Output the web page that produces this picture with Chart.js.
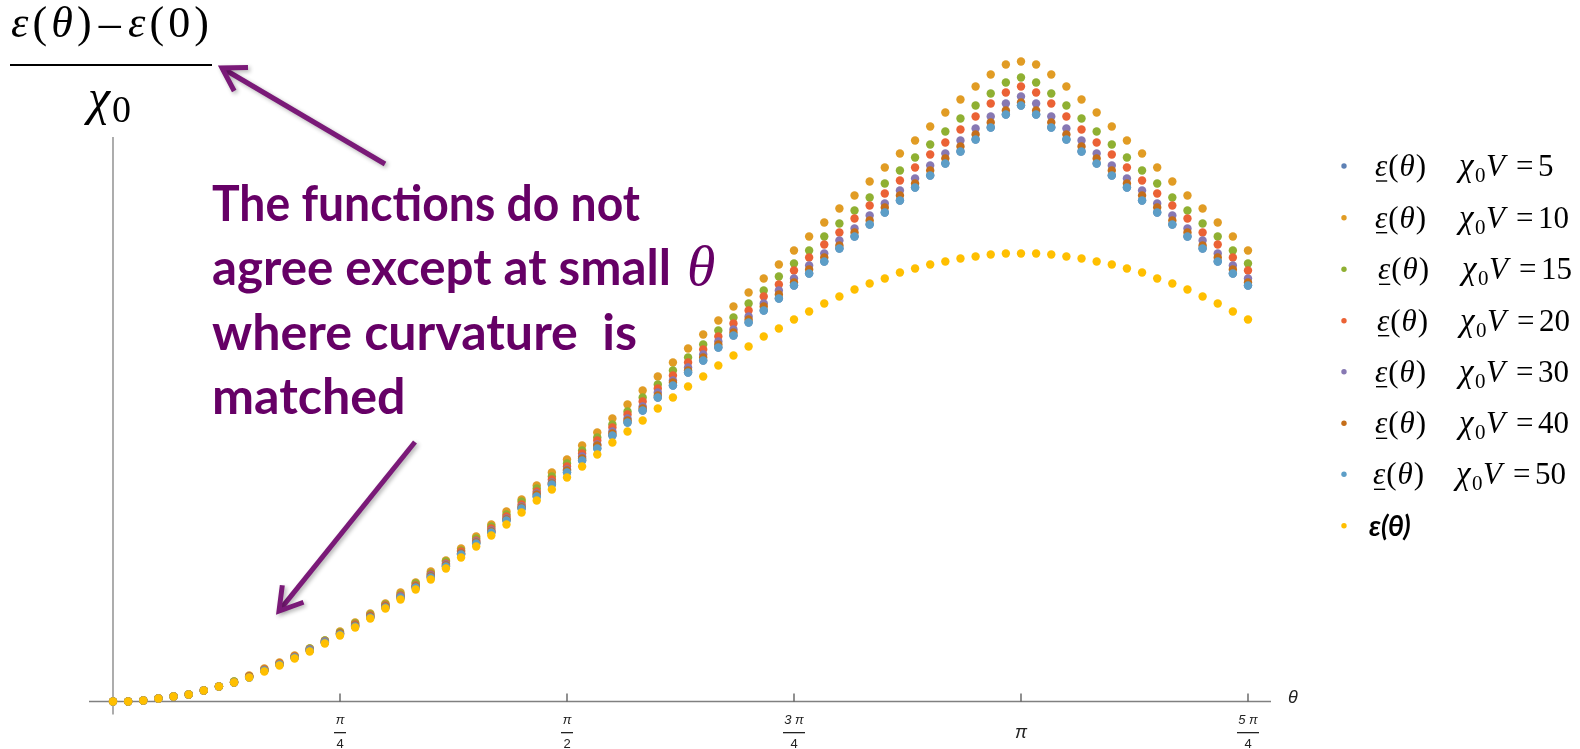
<!DOCTYPE html>
<html>
<head>
<meta charset="utf-8">
<script src="https://cdn.jsdelivr.net/npm/chart.js@4/dist/chart.umd.min.js"></script>
<style>
html,body{margin:0;padding:0;background:#fff;overflow:hidden}
#wrap{width:1580px;height:749px;position:relative}
</style>
</head>
<body>
<div id="wrap"><canvas id="c" width="1580" height="749"></canvas></div>
<script>
// theta in degrees (0 .. 5π/4)
const thetaDeg = [0,3,6,9,12,15,18,21,24,27,30,33,36,39,42,45,48,51,54,57,
60,63,66,69,72,75,78,81,84,87,90,93,96,99,102,105,108,111,114,117,
120,123,126,129,132,135,138,141,144,147,150,153,156,159,162,165,168,171,174,177,
180,183,186,189,192,195,198,201,204,207,210,213,216,219,222,225];

// exact ε(θ)
const epsExact = [0.00,0.00,0.01,0.03,0.05,0.07,0.11,0.15,0.19,0.24,
0.30,0.36,0.43,0.50,0.58,0.66,0.74,0.83,0.93,1.02,
1.12,1.22,1.33,1.44,1.55,1.66,1.77,1.89,2.01,2.12,
2.24,2.35,2.47,2.59,2.70,2.81,2.93,3.04,3.15,3.25,
3.36,3.46,3.55,3.65,3.73,3.82,3.90,3.98,4.05,4.12,
4.18,4.23,4.29,4.33,4.37,4.40,4.43,4.45,4.47,4.48,
4.48,4.48,4.47,4.45,4.43,4.40,4.37,4.33,4.29,4.23,
4.18,4.12,4.05,3.98,3.90,3.82];

const eps10 = [0.00,0.00,0.01,0.03,0.05,0.07,0.11,0.15,0.20,0.26,
0.33,0.39,0.46,0.53,0.61,0.70,0.79,0.88,0.98,1.09,
1.19,1.30,1.41,1.53,1.65,1.77,1.90,2.02,2.16,2.29,
2.42,2.56,2.69,2.83,2.97,3.11,3.25,3.39,3.53,3.67,
3.81,3.95,4.09,4.23,4.37,4.51,4.65,4.79,4.93,5.06,
5.20,5.34,5.48,5.61,5.75,5.89,6.02,6.15,6.27,6.37,
6.40,6.37,6.27,6.15,6.02,5.89,5.75,5.61,5.48,5.34,
5.20,5.06,4.93,4.79,4.65,4.51];

const eps15 = [0.00,0.00,0.01,0.03,0.05,0.07,0.11,0.15,0.20,0.25,
0.32,0.38,0.45,0.53,0.61,0.69,0.78,0.87,0.97,1.07,
1.18,1.28,1.40,1.51,1.63,1.75,1.87,2.00,2.13,2.25,
2.38,2.51,2.64,2.77,2.90,3.04,3.17,3.31,3.44,3.57,
3.71,3.84,3.98,4.11,4.25,4.38,4.51,4.65,4.78,4.91,
5.04,5.18,5.31,5.44,5.57,5.70,5.83,5.96,6.08,6.19,
6.24,6.19,6.08,5.96,5.83,5.70,5.57,5.44,5.31,5.18,
5.04,4.91,4.78,4.65,4.51,4.38];

const eps20 = [0.00,0.00,0.01,0.03,0.05,0.07,0.11,0.15,0.19,0.25,
0.32,0.38,0.45,0.52,0.60,0.68,0.77,0.86,0.96,1.06,
1.16,1.27,1.38,1.50,1.61,1.73,1.85,1.97,2.10,2.22,
2.35,2.48,2.61,2.74,2.87,3.00,3.13,3.26,3.39,3.52,
3.65,3.78,3.91,4.05,4.17,4.31,4.44,4.57,4.69,4.83,
4.96,5.08,5.21,5.34,5.47,5.59,5.72,5.85,5.98,6.09,
6.15,6.09,5.98,5.85,5.72,5.59,5.47,5.34,5.21,5.08,
4.96,4.83,4.69,4.57,4.44,4.31];

const eps30 = [0.00,0.00,0.01,0.03,0.05,0.07,0.11,0.15,0.19,0.25,
0.31,0.37,0.44,0.52,0.60,0.68,0.76,0.85,0.95,1.05,
1.15,1.26,1.37,1.48,1.60,1.71,1.83,1.95,2.08,2.19,
2.32,2.45,2.57,2.70,2.83,2.95,3.09,3.21,3.34,3.47,
3.60,3.72,3.85,3.98,4.11,4.23,4.36,4.48,4.61,4.73,
4.86,4.98,5.11,5.23,5.36,5.48,5.61,5.73,5.85,5.98,
6.05,5.98,5.85,5.73,5.61,5.48,5.36,5.23,5.11,4.98,
4.86,4.73,4.61,4.48,4.36,4.23];

const eps40 = [0.00,0.00,0.01,0.03,0.05,0.07,0.11,0.15,0.19,0.25,
0.31,0.37,0.44,0.51,0.59,0.68,0.76,0.85,0.95,1.04,
1.15,1.25,1.36,1.48,1.59,1.70,1.82,1.94,2.07,2.18,
2.31,2.43,2.56,2.68,2.81,2.93,3.06,3.19,3.31,3.44,
3.57,3.69,3.82,3.95,4.07,4.19,4.32,4.44,4.56,4.69,
4.81,4.94,5.06,5.18,5.31,5.43,5.55,5.67,5.79,5.91,
5.99,5.91,5.79,5.67,5.55,5.43,5.31,5.18,5.06,4.94,
4.81,4.69,4.56,4.44,4.32,4.19];

const eps50 = [0.00,0.00,0.01,0.03,0.05,0.07,0.11,0.15,0.19,0.24,
0.31,0.37,0.44,0.51,0.59,0.67,0.75,0.84,0.94,1.04,
1.14,1.24,1.35,1.47,1.58,1.69,1.81,1.93,2.05,2.17,
2.29,2.41,2.53,2.66,2.79,2.91,3.04,3.16,3.29,3.41,
3.54,3.66,3.79,3.91,4.03,4.16,4.28,4.40,4.53,4.65,
4.77,4.89,5.01,5.14,5.26,5.38,5.50,5.62,5.74,5.87,
5.96,5.87,5.74,5.62,5.50,5.38,5.26,5.14,5.01,4.89,
4.77,4.65,4.53,4.40,4.28,4.16];

// χ0V = 5 lies underneath the other series (not distinguishable in the picture)
const eps5 = [0.00,0.00,0.01,0.03,0.05,0.07,0.11,0.15,0.19,0.24,
0.31,0.37,0.44,0.51,0.59,0.67,0.75,0.84,0.94,1.04,
1.14,1.24,1.35,1.47,1.58,1.69,1.81,1.93,2.05,2.17,
2.29,2.41,2.53,2.66,2.79,2.91,3.04,3.16,3.29,3.41,
3.54,3.66,3.79,3.91,4.03,4.16,4.28,4.40,4.53,4.65,
4.77,4.89,5.01,5.14,5.26,5.38,5.50,5.62,5.74,5.87,
5.96,5.87,5.74,5.62,5.50,5.38,5.26,5.14,5.01,4.89,
4.77,4.65,4.53,4.40,4.28,4.16];

const seriesLabels = ['5','10','15','20','30','40','50'];
const tickDeg = [45, 90, 135, 180, 225];
const tickNum = ['π','π','3 π','π','5 π'];
const tickDen = ['4','2','4','','4'];
const noteLines = ['The functions do not', 'agree except at small ', 'where curvature  is', 'matched'];

const colors = ['#5E81B5','#E19C24','#8FB032','#EB6235','#8778B3','#C56E1A','#5D9EC7','#FFBF00'];
const seriesData = [eps5, eps10, eps15, eps20, eps30, eps40, eps50, epsExact];

const datasets = seriesData.map((arr, k) => ({
  label: k < 7 ? 'χ0V = ' + seriesLabels[k] : 'ε(θ)',
  data: arr.map((v, i) => ({x: thetaDeg[i], y: v})),
  backgroundColor: colors[k],
  pointBackgroundColor: colors[k],
  pointBorderWidth: 0,
  pointRadius: 4.2,
  pointHoverRadius: 4.2,
  showLine: false,
  clip: false,
  order: 7 - k
}));

const SERIF = '"Liberation Serif", "Times New Roman", serif';
const SANS = '"Liberation Sans", Arial, sans-serif';

function seqWidth(ctx, segs) {
  let w = 0;
  segs.forEach(s => { ctx.font = s.f; w += (s.pre || 0) + ctx.measureText(s.t).width + (s.post || 0); });
  return w;
}

function drawSeq(ctx, x, base, segs, gap) {
  let cx = x;
  gap = gap || 0;
  segs.forEach(s => {
    ctx.font = s.f;
    cx += (s.pre || 0);
    ctx.fillText(s.t, cx, base + (s.dy || 0));
    const w = ctx.measureText(s.t).width;
    if (s.ul) {
      ctx.save();
      ctx.lineWidth = 1.4;
      ctx.strokeStyle = ctx.fillStyle;
      ctx.beginPath();
      ctx.moveTo(cx + 1, base + 5);
      ctx.lineTo(cx + w, base + 5);
      ctx.stroke();
      ctx.restore();
    }
    cx += w + (s.post || 0) + gap;
  });
  return cx;
}

function arrow(ctx, tx, ty, fx, fy) {
  const ang = Math.atan2(fy - ty, fx - tx);
  const L = 26, a = 0.55;
  ctx.beginPath();
  ctx.moveTo(fx, fy);
  ctx.lineTo(tx + 3 * Math.cos(ang), ty + 3 * Math.sin(ang));
  ctx.stroke();
  ctx.beginPath();
  ctx.moveTo(tx + L * Math.cos(ang - a), ty + L * Math.sin(ang - a));
  ctx.lineTo(tx, ty);
  ctx.lineTo(tx + L * Math.cos(ang + a), ty + L * Math.sin(ang + a));
  ctx.stroke();
}

const overlay = {
  id: 'overlay',
  beforeDatasetsDraw(chart) {
    const ctx = chart.ctx, xs = chart.scales.x, ys = chart.scales.y;
    const ca = chart.chartArea;
    ctx.save();
    ctx.strokeStyle = '#808080';
    ctx.lineWidth = 1.3;
    const y0 = ys.getPixelForValue(0);
    const x0 = xs.getPixelForValue(0);
    ctx.beginPath(); ctx.moveTo(ca.left - 2, y0); ctx.lineTo(ca.right, y0); ctx.stroke();
    ctx.beginPath(); ctx.moveTo(x0, ys.getPixelForValue(5.645)); ctx.lineTo(x0, ys.getPixelForValue(-0.13)); ctx.stroke();
    ctx.strokeStyle = '#555';
    tickDeg.forEach(d => {
      const px = xs.getPixelForValue(d);
      ctx.beginPath(); ctx.moveTo(px, y0); ctx.lineTo(px, y0 - 8); ctx.stroke();
    });
    // tick labels
    ctx.fillStyle = '#222';
    ctx.textAlign = 'center';
    ctx.textBaseline = 'middle';
    tickDeg.forEach((d, k) => {
      const px = xs.getPixelForValue(d);
      if (tickDen[k] === '') {
        ctx.font = 'italic 18px ' + SANS;
        ctx.fillText(tickNum[k], px, y0 + 31);
      } else {
        ctx.font = 'italic 13px ' + SANS;
        ctx.fillText(tickNum[k], px, y0 + 19);
        const w = tickNum[k].length > 1 ? 22 : 12;
        ctx.fillRect(px - w / 2, y0 + 30.5, w, 1.3);
        ctx.font = '13px ' + SANS;
        ctx.fillText(tickDen[k], px, y0 + 43);
      }
    });
    ctx.font = 'italic 18px ' + SANS;
    ctx.fillText('θ', xs.getPixelForValue(229.56) + 22, y0 - 4);
    ctx.restore();
  },
  afterDraw(chart) {
    const ctx = chart.ctx;
    ctx.save();
    ctx.textAlign = 'left';
    ctx.textBaseline = 'alphabetic';
    ctx.fillStyle = '#000';
    // y label fraction
    const fs = 44;
    const num = [
      {t:'ε', f:'italic '+fs+'px '+SERIF},
      {t:'(', f:fs+'px '+SERIF},
      {t:'θ', f:'italic '+fs+'px '+SERIF},
      {t:')', f:fs+'px '+SERIF},
      {t:'–', f:fs+'px '+SERIF, pre:3, post:3},
      {t:'ε', f:'italic '+fs+'px '+SERIF},
      {t:'(', f:fs+'px '+SERIF},
      {t:'0', f:fs+'px '+SERIF},
      {t:')', f:fs+'px '+SERIF}
    ];
    const nw = seqWidth(ctx, num);
    const g = Math.max(0, (198 - nw) / (num.length - 1));
    drawSeq(ctx, 11, 37, num, g);
    ctx.fillRect(10, 64, 202, 2);
    ctx.font = 'italic 50px ' + SERIF;
    ctx.fillText('χ', 88, 114);
    ctx.font = '38px ' + SERIF;
    ctx.fillText('0', 112, 122);

    // legend
    const rowY = [166, 217.7, 269.3, 320.7, 371.7, 423.3, 474.3, 525.7];
    const eX = [1375, 1375, 1378, 1377, 1375, 1375, 1373];
    const cX = [1459, 1459, 1462, 1460, 1459, 1459, 1456];
    const LF = 31;
    rowY.forEach((y, k) => {
      ctx.fillStyle = colors[k];
      ctx.beginPath(); ctx.arc(1344, y, 2.7, 0, Math.PI * 2); ctx.fill();
      ctx.fillStyle = '#000';
      if (k < 7) {
        drawSeq(ctx, eX[k], y + 10, [
          {t:'ε', f:'italic '+LF+'px '+SERIF, ul:true},
          {t:'(', f:LF+'px '+SERIF},
          {t:'θ', f:'italic '+LF+'px '+SERIF},
          {t:')', f:LF+'px '+SERIF}
        ], 1);
        const b = y + 10;
        ctx.font = 'italic ' + (LF + 2) + 'px ' + SERIF;
        ctx.fillText('χ', cX[k], b);
        ctx.font = '21px ' + SERIF;
        ctx.fillText('0', cX[k] + 16, b + 6);
        ctx.font = 'italic ' + LF + 'px ' + SERIF;
        ctx.fillText('V', cX[k] + 27, b);
        ctx.font = LF + 'px ' + SERIF;
        ctx.fillText('=', cX[k] + 57, b);
        ctx.fillText(seriesLabels[k], cX[k] + 79, b);
      } else {
        ctx.font = 'italic bold 28px Lato, ' + SANS;
        ctx.fillText('ε(θ)', 1369, y + 10);
      }
    });

    // annotation text
    ctx.fillStyle = '#660066';
    ctx.font = 'bold 100px Lato';
    const wA = ctx.measureText(noteLines[2]).width, wB = ctx.measureText(noteLines[3]).width;
    const nf = 100 * ((425 / wA) + (194 / wB)) / 2;
    const bases = [221, 285, 350, 414];
    const targets = [428, 471, 425, 194];
    noteLines.forEach((t, i) => {
      ctx.font = 'bold ' + nf + 'px Lato';
      const w = ctx.measureText(t).width;
      const sx = Math.min(1, targets[i] / w);
      ctx.save();
      ctx.translate(212, bases[i]);
      ctx.scale(sx, 1);
      ctx.fillText(t, 0, 0);
      ctx.restore();
      if (i === 1) {
        ctx.font = 'italic ' + (nf * 1.15) + 'px ' + SERIF;
        ctx.fillText('θ', 212 + w * sx + 4, bases[i]);
      }
    });

    // arrows
    ctx.strokeStyle = '#7A1A78';
    ctx.lineWidth = 5;
    ctx.lineCap = 'butt';
    ctx.lineJoin = 'miter';
    ctx.shadowColor = 'rgba(0,0,0,0.3)';
    ctx.shadowBlur = 4;
    ctx.shadowOffsetX = 2;
    ctx.shadowOffsetY = 2;
    arrow(ctx, 222, 68, 385, 164);
    arrow(ctx, 279, 611, 415, 442);
    ctx.restore();
  }
};

new Chart(document.getElementById('c'), {
  type: 'scatter',
  data: { datasets },
  options: {
    responsive: false,
    devicePixelRatio: 1,
    animation: false,
    events: [],
    layout: { padding: { left: 91, right: 309, top: 55, bottom: 34 } },
    plugins: { legend: { display: false }, tooltip: { enabled: false }, title: { display: false } },
    scales: {
      x: { type: 'linear', display: false, min: -4.361, max: 229.56 },
      y: { type: 'linear', display: false, min: -0.135, max: 6.465 }
    }
  },
  plugins: [overlay]
});
</script>
</body>
</html>
